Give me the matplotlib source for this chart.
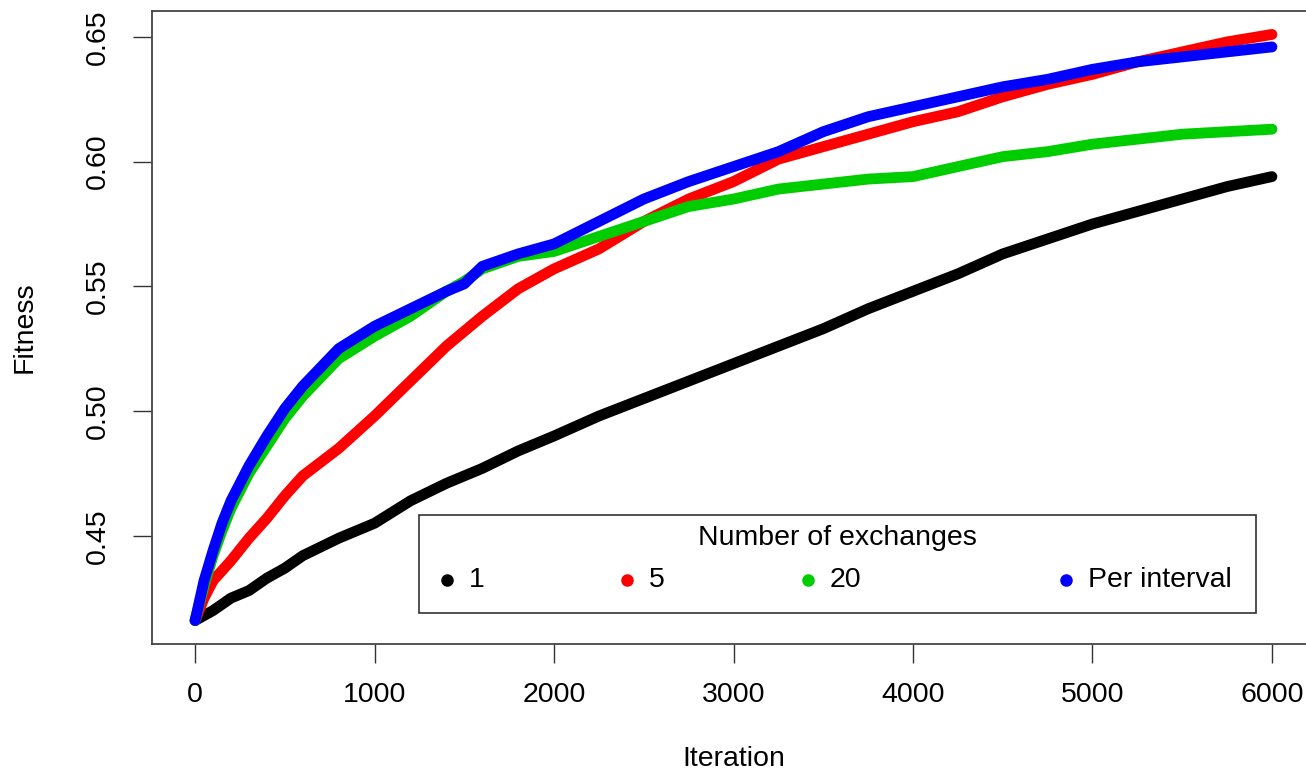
import matplotlib
matplotlib.use("Agg")
import matplotlib.pyplot as plt
from matplotlib.patches import Rectangle
from matplotlib.lines import Line2D

plt.rcParams['font.family'] = ['Liberation Sans', 'DejaVu Sans']

# values
it_black = [0, 100, 200, 300, 400, 500, 600, 800, 1000, 1200, 1400, 1600, 1800, 2000,
            2250, 2500, 2750, 3000, 3250, 3500, 3750, 4000, 4250, 4500, 4750, 5000,
            5250, 5500, 5750, 6000]
fit_black = [0.416, 0.420, 0.425, 0.428, 0.433, 0.437, 0.442, 0.449, 0.455, 0.464, 0.471,
             0.477, 0.484, 0.490, 0.498, 0.505, 0.512, 0.519, 0.526, 0.533, 0.541, 0.548,
             0.555, 0.563, 0.569, 0.575, 0.580, 0.585, 0.590, 0.594]

it_red = [0, 50, 100, 200, 300, 400, 500, 600, 800, 1000, 1200, 1400, 1600, 1800, 2000,
          2250, 2500, 2750, 3000, 3250, 3500, 3750, 4000, 4250, 4500, 4750, 5000, 5250,
          5500, 5750, 6000]
fit_red = [0.416, 0.425, 0.432, 0.440, 0.449, 0.457, 0.466, 0.474, 0.485, 0.498, 0.512,
           0.526, 0.538, 0.549, 0.557, 0.565, 0.576, 0.585, 0.592, 0.601, 0.606, 0.611,
           0.616, 0.620, 0.626, 0.631, 0.635, 0.640, 0.644, 0.648, 0.651]

it_green = [0, 50, 100, 150, 200, 300, 400, 500, 600, 800, 1000, 1200, 1400, 1500, 1600,
            1800, 2000, 2250, 2500, 2750, 3000, 3250, 3500, 3750, 4000, 4250, 4500, 4750,
            5000, 5250, 5500, 5750, 6000]
fit_green = [0.416, 0.430, 0.442, 0.452, 0.461, 0.475, 0.486, 0.497, 0.506, 0.521, 0.530,
             0.538, 0.548, 0.552, 0.557, 0.562, 0.564, 0.570, 0.576, 0.582, 0.585, 0.589,
             0.591, 0.593, 0.594, 0.598, 0.602, 0.604, 0.607, 0.609, 0.611, 0.612, 0.613]

it_blue = [0, 50, 100, 150, 200, 300, 400, 500, 600, 800, 1000, 1200, 1400, 1500, 1600,
           1800, 2000, 2250, 2500, 2750, 3000, 3250, 3500, 3750, 4000, 4250, 4500, 4750,
           5000, 5250, 5500, 5750, 6000]
fit_blue = [0.416, 0.432, 0.444, 0.455, 0.464, 0.478, 0.490, 0.501, 0.510, 0.525, 0.534,
            0.541, 0.548, 0.551, 0.558, 0.563, 0.567, 0.576, 0.585, 0.592, 0.598, 0.604,
            0.612, 0.618, 0.622, 0.626, 0.630, 0.633, 0.637, 0.640, 0.642, 0.644, 0.646]

labels = ['1', '5', '20', 'Per interval']
colors = ['black', '#FF0000', '#00CD00', '#0000FF']

fig = plt.figure(figsize=(13.06, 7.74), dpi=100)
ax = fig.add_axes([0.1164, 0.168, 0.8905, 0.8178])

series = [(it_black, fit_black), (it_red, fit_red), (it_green, fit_green), (it_blue, fit_blue)]
for (xs, ys), c in zip(series, colors):
    ax.plot(xs, ys, color=c, lw=7.8, solid_capstyle='round', solid_joinstyle='round')

ax.set_xlim(-240, 6240)
ax.set_ylim(0.4066, 0.6604)
ax.set_xticks([0, 1000, 2000, 3000, 4000, 5000, 6000])
ax.set_yticks([0.45, 0.50, 0.55, 0.60, 0.65])
ax.set_yticklabels(['0.45', '0.50', '0.55', '0.60', '0.65'], rotation=90, va='center')
ax.tick_params(length=13.5, width=1.0, labelsize=20.5, pad=14, color='#333333')
ax.tick_params(axis='y', pad=16)
for s in ax.spines.values():
    s.set_color('#444444')
    s.set_linewidth(1.3)
ax.set_xlabel('Iteration', fontsize=20.5, labelpad=27)
ax.set_ylabel('Fitness', fontsize=20.5, labelpad=34)

# legend box drawn like R's legend()
fig.patches.append(Rectangle((0.3208, 0.208), 0.6409, 0.1266, transform=fig.transFigure,
                             fill=False, edgecolor='#333333', lw=1.2))
fig.text(0.6409, 0.3049, 'Number of exchanges', ha='center', va='center', fontsize=20.5)
dot_x = [0.3423, 0.4801, 0.6187, 0.8162]
for dx, lab, c in zip(dot_x, labels, colors):
    fig.lines.append(Line2D([dx], [0.2506], marker='o', ms=8, color=c,
                            transform=fig.transFigure))
    fig.text(dx + 0.0165, 0.2506, lab, ha='left', va='center', fontsize=20.5)

fig.savefig('out.png', dpi=100)
